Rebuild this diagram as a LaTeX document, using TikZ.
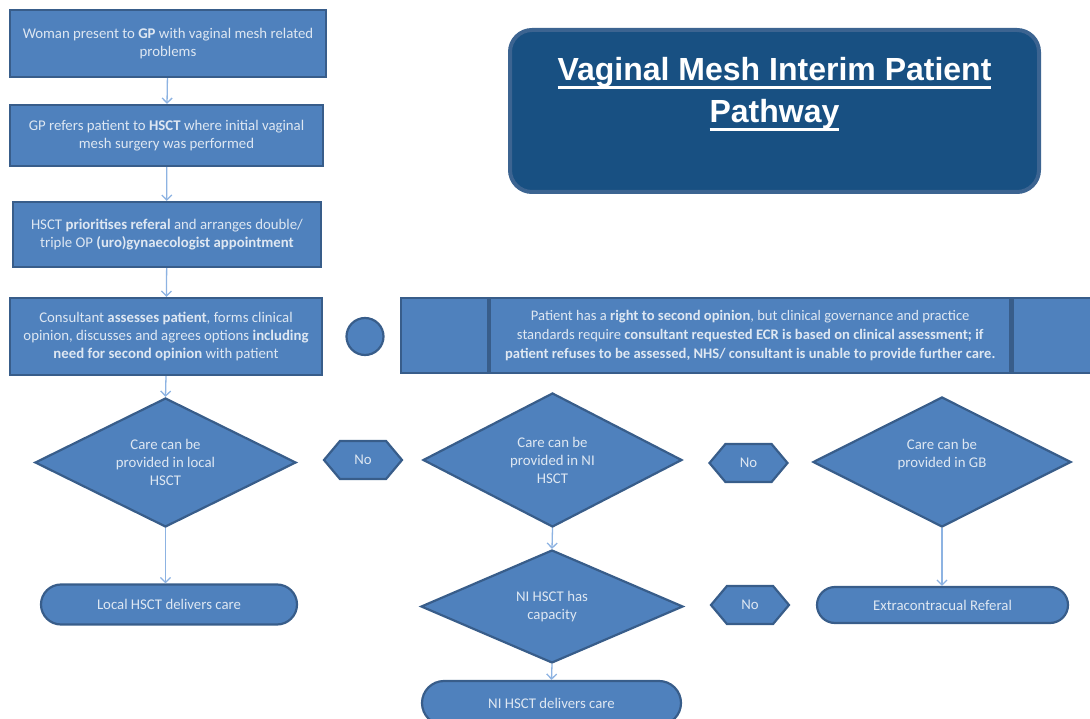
\documentclass[tikz,border=0pt]{standalone}
\usepackage{fontspec}
\setmainfont{Carlito}
\newfontfamily\titlefont{Liberation Sans}
\usetikzlibrary{shapes.geometric,shapes.misc,shapes.symbols,arrows.meta,positioning}
\definecolor{boxblue}{RGB}{79,129,189}
\definecolor{boxline}{RGB}{56,93,138}
\definecolor{titleblue}{RGB}{24,80,130}
\definecolor{titleline}{RGB}{60,100,145}
\definecolor{arrowblue}{RGB}{141,179,226}
\definecolor{textblue}{RGB}{222,231,242}
\newcommand{\strich}[1]{\setbox0\hbox{#1}\rlap{\rule[-8.5pt]{\wd0}{3pt}}\box0}
\begin{document}
\begin{tikzpicture}[x=1pt,y=-1pt,line width=2.2pt,
    font=\fontsize{14.8}{18}\selectfont,
    mybox/.style={draw=boxline,fill=boxblue,text=textblue,rectangle,align=center,inner sep=0pt},
    myraute/.style={draw=boxline,fill=boxblue,text=textblue,diamond,aspect=2,align=center,inner sep=0pt},
    myende/.style={draw=boxline,fill=boxblue,text=textblue,rounded rectangle,inner sep=0pt},
    myno/.style={draw=boxline,fill=boxblue,text=textblue,signal,signal to=west and east,
      signal pointer angle=100,minimum width=78pt,minimum height=38pt,inner sep=0pt},
    pfeil/.style={draw=arrowblue,line width=1.3pt,-{Straight Barb[length=5pt,width=10pt]}}]
  \useasboundingbox (0,0) rectangle (1090,719);
  % left column
  \node[mybox,minimum width=316pt,minimum height=67pt] at (168,43.5) (B1) {Woman present to \textbf{GP} with vaginal mesh related\\problems};
  \node[mybox,minimum width=313pt,minimum height=61pt] at (166.5,135.5) (B2) {GP refers patient to \textbf{HSCT} where initial vaginal\\mesh surgery was performed};
  \node[mybox,minimum width=308pt,minimum height=65pt] at (167,234.5) (B3) {HSCT \textbf{prioritises referal} and arranges double/\\triple OP \textbf{(uro)gynaecologist appointment}};
  \node[mybox,minimum width=312pt,minimum height=77pt] at (166,336.5) (B4) {Consultant \textbf{assesses patient}, forms clinical\\opinion, discusses and agrees options \textbf{including}\\\textbf{need for second opinion} with patient};
  \node[draw=boxline,fill=boxblue,circle,minimum size=37pt] at (365,336.5) (K) {};
  % second opinion panel
  \node[mybox,minimum width=87pt,minimum height=75pt] at (444.5,335.5) (P1) {};
  \node[mybox,minimum width=520pt,minimum height=75pt,right=0pt of P1,font=\fontsize{14.6}{19}\selectfont] (P2) {Patient has a \textbf{right to second opinion}, but clinical governance and practice\\standards require \textbf{consultant requested ECR is based on clinical assessment; if}\\\textbf{patient refuses to be assessed, NHS/ consultant is unable to provide further care.}};
  \node[mybox,minimum width=87pt,minimum height=75pt,right=0pt of P2] (P3) {};
  % title
  \node[draw=titleline,fill=titleblue,line width=4pt,rounded corners=22pt,minimum width=529pt,minimum height=162pt,
    text=white,align=center,font=\titlefont\bfseries\fontsize{32}{42}\selectfont] at (774.5,111) (T) {\strich{Vaginal Mesh Interim Patient}\\\strich{Pathway}\\\mbox{}};
  % decisions
  \node[myraute,minimum width=261pt,minimum height=129pt] at (165.5,462.5) (D1) {Care can be\\provided in local\\HSCT};
  \node[myraute,minimum width=259pt,minimum height=134pt] at (552.5,460) (D2) {Care can be\\provided in NI\\HSCT};
  \node[myraute,minimum width=262pt,minimum height=113pt] at (552,606.5) (D3) {NI HSCT has\\capacity};
  \node[myraute,minimum width=258pt,minimum height=130pt] at (942,462) (D4) {Care can be\\provided in GB\\\mbox{}};
  \node[myno] at (363,460) (N1) {No};
  \node[myno] at (748.5,463) (N2) {No};
  \node[myno] at (750,605) (N3) {No};
  % outcomes
  \node[myende,minimum width=256pt,minimum height=40pt] at (169,604.5) (E1) {Local HSCT delivers care};
  \node[myende,minimum width=259pt,minimum height=44pt] at (551.5,703) (E2) {NI HSCT delivers care};
  \node[myende,minimum width=251pt,minimum height=36pt] at (942.5,605) (E3) {Extracontracual Referal};
  % arrows
  \draw[pfeil] (B1)--(B2);
  \draw[pfeil] (B2)--(B3);
  \draw[pfeil] (B3)--(B4);
  \draw[pfeil] (B4.south)--(D1.north);
  \draw[pfeil] (D1.south)--(D1.south |- E1.north);
  \draw[pfeil] (D2.south)--(D3.north);
  \draw[pfeil] (D3.south)--(E2.north);
  \draw[pfeil] (D4.south)--(D4.south |- E3.north);
\end{tikzpicture}
\end{document}
